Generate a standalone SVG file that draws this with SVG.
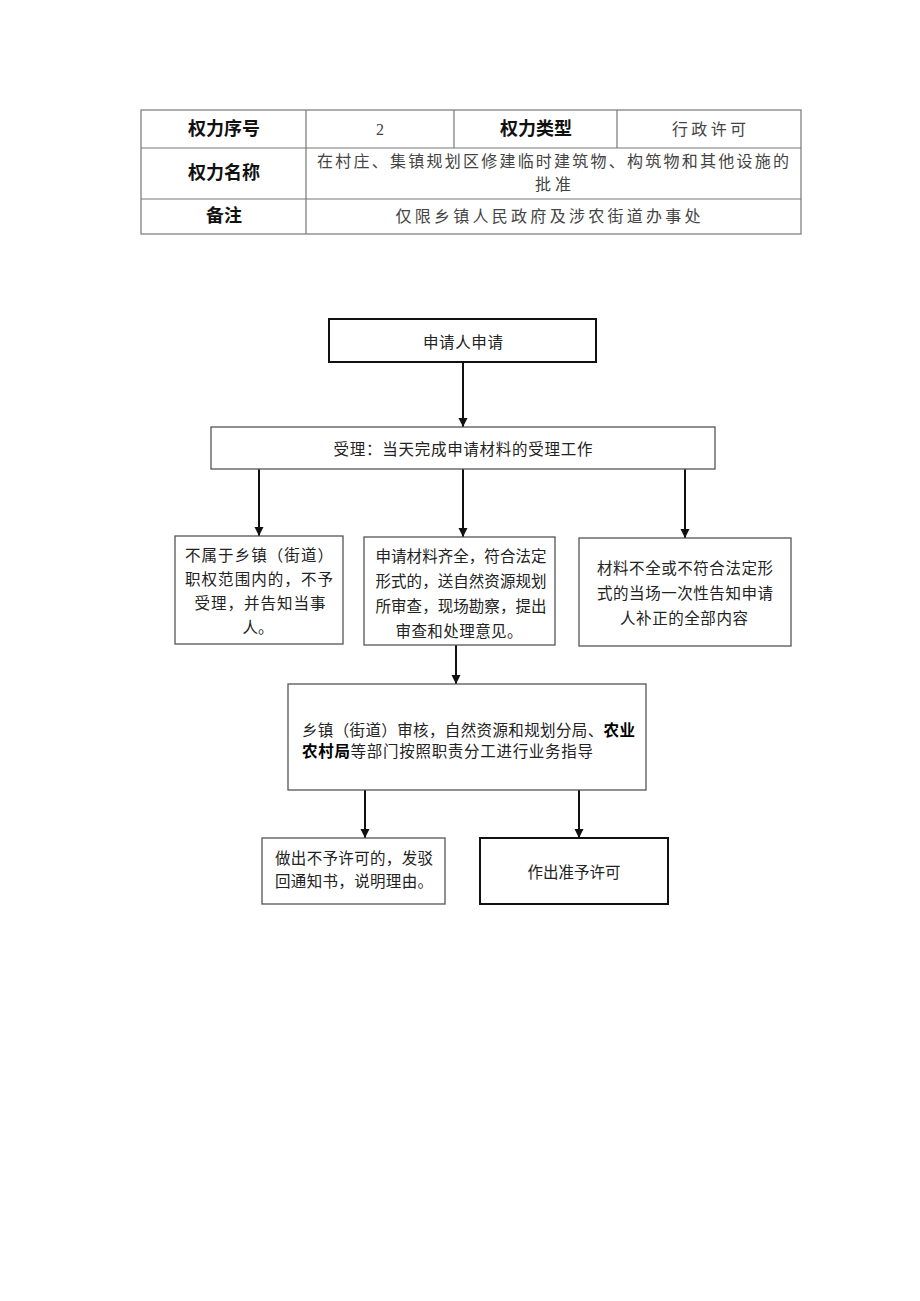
<svg xmlns="http://www.w3.org/2000/svg" width="920" height="1301" viewBox="0 0 920 1301">
<defs>
<marker id="ah" markerWidth="10" markerHeight="10" refX="9" refY="5" orient="auto" markerUnits="userSpaceOnUse">
<path d="M0,0.5 L9,5 L0,9.5 Z" fill="#111"/>
</marker>
<style>
.t{font-family:"Liberation Serif","Noto Sans CJK SC",serif;font-size:15.5px;fill:#222;dominant-baseline:central}
.h{font-family:"Liberation Sans","Noto Sans CJK SC",sans-serif;font-size:18px;font-weight:bold;fill:#111;dominant-baseline:central;text-anchor:middle}
.v{font-family:"Liberation Serif","Noto Sans CJK SC",serif;font-size:16px;fill:#444;dominant-baseline:central;text-anchor:middle}
.c{text-anchor:middle}
.b{fill:#fff;stroke:#555;stroke-width:1.3}
.bk{fill:#fff;stroke:#111;stroke-width:2}
.g{stroke:#777;stroke-width:1.2;fill:none}
.ln{stroke:#111;stroke-width:2;fill:none;marker-end:url(#ah)}
</style>
</defs>
<rect width="920" height="1301" fill="#fff"/>

<g id="table">
<rect class="g" x="141" y="110" width="660" height="124"/>
<line class="g" x1="141" y1="148" x2="801" y2="148"/>
<line class="g" x1="141" y1="199" x2="801" y2="199"/>
<line class="g" x1="306" y1="110" x2="306" y2="234"/>
<line class="g" x1="454" y1="110" x2="454" y2="148"/>
<line class="g" x1="617" y1="110" x2="617" y2="148"/>
<text class="h" x="224" y="129">权力序号</text>
<text class="v" x="380" y="129">2</text>
<text class="h" x="536" y="129">权力类型</text>
<text class="v" x="709" y="129" textLength="74" lengthAdjust="spacing">行政许可</text>
<text class="h" x="224" y="173">权力名称</text>
<text class="v" x="553" y="161" textLength="472" lengthAdjust="spacing">在村庄、集镇规划区修建临时建筑物、构筑物和其他设施的</text>
<text class="v" x="553" y="184" textLength="36" lengthAdjust="spacing">批准</text>
<text class="h" x="224" y="216">备注</text>
<text class="v" x="548" y="216" textLength="305" lengthAdjust="spacing">仅限乡镇人民政府及涉农街道办事处</text>
</g>

<g id="connectors">
<line class="ln" x1="463" y1="362" x2="463" y2="427"/>
<line class="ln" x1="259" y1="469" x2="259" y2="536"/>
<line class="ln" x1="463" y1="469" x2="463" y2="537"/>
<line class="ln" x1="685" y1="469" x2="685" y2="538"/>
<line class="ln" x1="456" y1="645" x2="456" y2="684"/>
<line class="ln" x1="365" y1="790" x2="365" y2="838"/>
<line class="ln" x1="579" y1="790" x2="579" y2="838"/>
</g>

<g id="n1">
<rect class="bk" x="329" y="319" width="267" height="43"/>
<text class="t c" x="463" y="342" textLength="80" lengthAdjust="spacing">申请人申请</text>
</g>
<g id="n2">
<rect class="b" x="211" y="427" width="504" height="42"/>
<text class="t c" x="463" y="449" textLength="259" lengthAdjust="spacing">受理：当天完成申请材料的受理工作</text>
</g>
<g id="n3">
<rect class="b" x="175" y="536" width="168" height="108"/>
<text class="t c" x="259" y="555" textLength="148" lengthAdjust="spacing">不属于乡镇（街道）</text>
<text class="t c" x="259" y="579" textLength="148" lengthAdjust="spacing">职权范围内的，不予</text>
<text class="t c" x="260" y="603" textLength="131" lengthAdjust="spacing">受理，并告知当事</text>
<text class="t c" x="258" y="627">人。</text>
</g>
<g id="n4">
<rect class="b" x="364" y="537" width="191" height="108"/>
<text class="t c" x="461" y="556" textLength="171" lengthAdjust="spacing">申请材料齐全，符合法定</text>
<text class="t c" x="461" y="581" textLength="171" lengthAdjust="spacing">形式的，送自然资源规划</text>
<text class="t c" x="461" y="606" textLength="171" lengthAdjust="spacing">所审查，现场勘察，提出</text>
<text class="t c" x="459" y="631" textLength="127" lengthAdjust="spacing">审查和处理意见。</text>
</g>
<g id="n5">
<rect class="b" x="579" y="538" width="212" height="108"/>
<text class="t c" x="685" y="568" textLength="176" lengthAdjust="spacing">材料不全或不符合法定形</text>
<text class="t c" x="685" y="593" textLength="176" lengthAdjust="spacing">式的当场一次性告知申请</text>
<text class="t c" x="684" y="618" textLength="128" lengthAdjust="spacing">人补正的全部内容</text>
</g>
<g id="n6">
<rect class="b" x="288" y="684" width="358" height="106"/>
<text class="t" x="302" y="730" textLength="333" lengthAdjust="spacing">乡镇（街道）审核，自然资源和规划分局、<tspan font-weight="bold" fill="#000">农业</tspan></text>
<text class="t" x="302" y="751" textLength="291" lengthAdjust="spacing"><tspan font-weight="bold" fill="#000">农村局</tspan>等部门按照职责分工进行业务指导</text>
</g>
<g id="n7">
<rect class="b" x="262" y="838" width="183" height="66"/>
<text class="t c" x="354" y="858" textLength="158" lengthAdjust="spacing">做出不予许可的，发驳</text>
<text class="t c" x="354" y="881" textLength="158" lengthAdjust="spacing">回通知书，说明理由。</text>
</g>
<g id="n8">
<rect class="bk" x="480" y="838" width="188" height="66"/>
<text class="t c" x="574" y="872" textLength="93" lengthAdjust="spacing">作出准予许可</text>
</g>
</svg>
